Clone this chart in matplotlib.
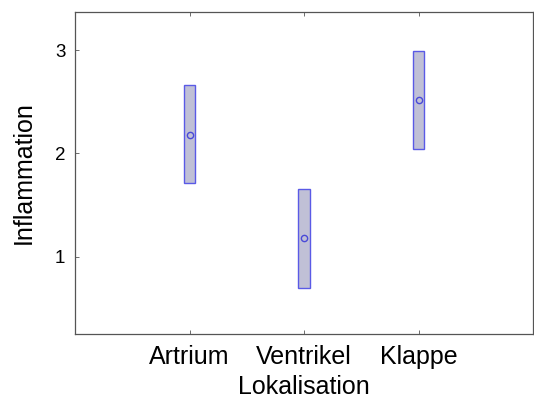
import matplotlib
matplotlib.use("Agg")
import matplotlib.pyplot as plt
from matplotlib.patches import Rectangle

categories = ["Artrium", "Ventrikel", "Klappe"]
means = [2.18, 1.18, 2.52]
lower = [1.71, 0.70, 2.04]
upper = [2.66, 1.655, 2.99]
yticks = [1, 2, 3]

plt.rcParams['font.family'] = ['Liberation Sans', 'DejaVu Sans']

fig = plt.figure(figsize=(5.34, 4.0), dpi=100)
ax = fig.add_axes([0.1404, 0.165, 0.858, 0.805])

pos = list(range(1, len(categories) + 1))
w = 0.1
for x, m, lo, hi in zip(pos, means, lower, upper):
    ax.add_patch(Rectangle((x - w / 2, lo), w, hi - lo, facecolor='#c0c0d6',
                           edgecolor='#5a5ae6', linewidth=1.0, zorder=2))
ax.plot(pos, means, linestyle='none', marker='o', markersize=4.5,
        markerfacecolor='none', markeredgecolor='#4a4ad8', markeredgewidth=1.0, zorder=3)

ax.set_xlim(0, 4)
ax.set_ylim(0.25, 3.37)
ax.set_xticks(pos)
ax.set_xticklabels(categories, fontsize=18)
ax.set_yticks(yticks)
ax.set_yticklabels([str(t) for t in yticks], fontsize=13.5)
ax.tick_params(axis='both', direction='in', length=3, width=0.6, color='#555555', top=True)
ax.tick_params(axis='x', pad=8)
ax.tick_params(axis='y', pad=7)
ax.set_xlabel("Lokalisation", fontsize=18, labelpad=4)
ax.set_ylabel("Inflammation", fontsize=18, labelpad=14)
for s in ax.spines.values():
    s.set_color('#555555')
    s.set_linewidth(0.9)

fig.savefig("out.png", dpi=100)
